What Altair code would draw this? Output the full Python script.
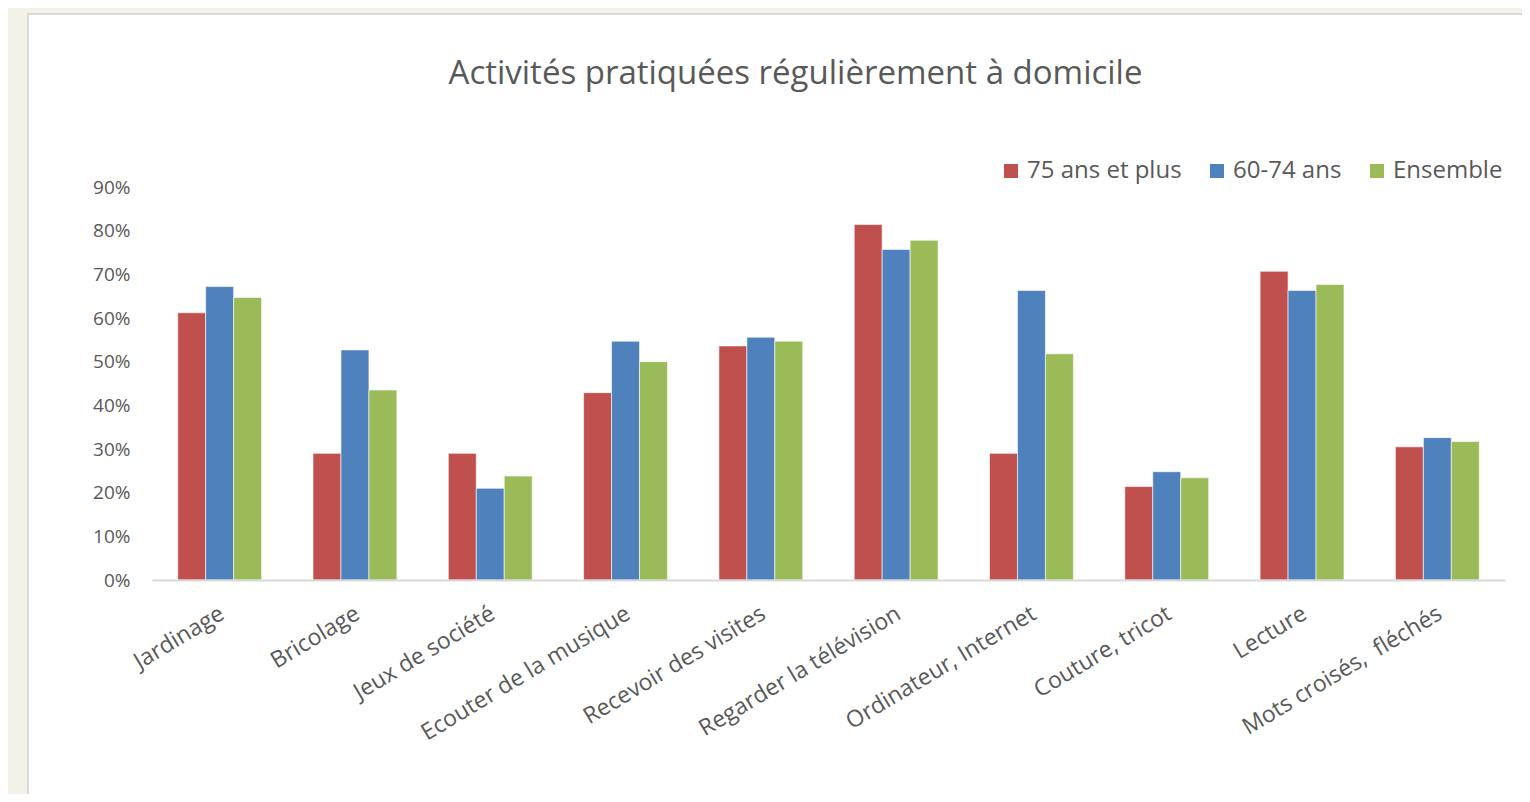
import altair as alt
import pandas as pd

categories = ["Jardinage", "Bricolage", "Jeux de société", "Ecouter de la musique",
              "Recevoir des visites", "Regarder la télévision", "Ordinateur, Internet",
              "Couture, tricot", "Lecture", "Mots croisés,\u00a0 fléchés"]
series = ["75 ans et plus", "60-74 ans", "Ensemble"]
v75 = [0.612, 0.290, 0.290, 0.429, 0.536, 0.814, 0.290, 0.214, 0.707, 0.305]
v60 = [0.672, 0.527, 0.210, 0.547, 0.556, 0.757, 0.663, 0.248, 0.663, 0.326]
vall = [0.647, 0.435, 0.238, 0.500, 0.547, 0.778, 0.518, 0.234, 0.677, 0.317]
colors = ["#c0504d", "#4f81bd", "#9bbb59"]
y_ticks = [0, 0.1, 0.2, 0.3, 0.4, 0.5, 0.6, 0.7, 0.8, 0.9]

rows = []
for vals, s in zip([v75, v60, vall], series):
    for c, v in zip(categories, vals):
        rows.append({"cat": c, "serie": s, "val": v})
df = pd.DataFrame(rows)

FONT = "Open Sans"
GREY = "#595959"
W, H = 1353, 393

panel = alt.Chart(pd.DataFrame({"p": [1]})).mark_rect(
    fill="white", stroke="#d9d9d9", strokeWidth=2
).encode(
    x=alt.value(-124), x2=alt.value(1400),
    y=alt.value(-173), y2=alt.value(640)
)

bars = alt.Chart(df).mark_bar(stroke="white", strokeWidth=0.6).encode(
    x=alt.X("cat:N", sort=categories,
            scale=alt.Scale(paddingInner=0.38, paddingOuter=0.19),
            axis=alt.Axis(title=None, labelAngle=-31, labelAlign="right",
                          labelBaseline="top", labelFontSize=23, labelColor=GREY,
                          labelFont=FONT, labelPadding=22, labelOffset=-3,
                          ticks=False, zindex=3,
                          domainColor="#d9d9d9", domainWidth=2, labelLimit=400)),
    xOffset=alt.XOffset("serie:N", sort=series),
    y=alt.Y("val:Q", scale=alt.Scale(domain=[0, 0.9]),
            axis=alt.Axis(title=None, format=".0%", values=y_ticks, grid=False,
                          domain=False, ticks=False, labelFontSize=19, zindex=3,
                          labelColor=GREY, labelFont=FONT, labelPadding=22)),
    color=alt.Color("serie:N", sort=series,
                    scale=alt.Scale(domain=series, range=colors),
                    legend=alt.Legend(title=None, orient="none", direction="horizontal",
                                      legendX=847, legendY=-28, symbolType="square",
                                      symbolSize=196, symbolStrokeWidth=0, zindex=3,
                                      labelFontSize=24, labelColor=GREY, labelFont=FONT,
                                      columnPadding=23, labelOffset=4)),
)

chart = alt.layer(panel, bars).properties(
    width=W, height=H,
    title=alt.TitleParams("Activités pratiquées régulièrement à domicile",
                          fontSize=33, font=FONT, fontWeight="normal", color=GREY,
                          anchor="middle", frame="group", dx=-33, offset=-78, zindex=3),
    padding={"left": 144, "top": 179, "right": 17, "bottom": 214},
    autosize=alt.AutoSizeParams(type="none"),
).configure(background="#f4f1e9").configure_view(stroke=None)

chart.save("out.html", embed_options={"renderer": "svg", "actions": False})
